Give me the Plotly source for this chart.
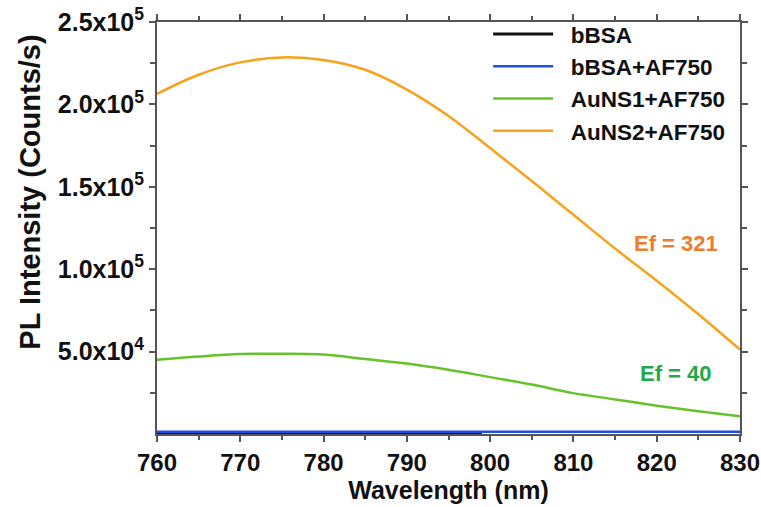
import plotly.graph_objects as go

wavelength = [760, 765, 770, 775, 780, 785, 790, 795, 800, 805, 810, 815, 820, 825, 830]
aunS2 = [206400, 218000, 225500, 228500, 227000, 221000, 209000, 193000, 173500,
         153500, 133000, 112500, 93000, 72700, 51300]
aunS1 = [45000, 47000, 48500, 48700, 48200, 45500, 42800, 39000, 34500,
         30000, 24800, 21000, 17200, 13800, 10700]
bbsa_wl = [760, 770, 780, 790, 799]
bbsa = [250, 250, 250, 250, 250]
bbsa_af = [1400] * len(wavelength)

series_names = ["bBSA", "bBSA+AF750", "AuNS1+AF750", "AuNS2+AF750"]
ytick_vals = [50000, 100000, 150000, 200000, 250000]
ytick_text = ["<b>5.0x10<sup>4</sup></b>", "<b>1.0x10<sup>5</sup></b>", "<b>1.5x10<sup>5</sup></b>",
              "<b>2.0x10<sup>5</sup></b>", "<b>2.5x10<sup>5</sup></b>"]
xtick_vals = [760, 770, 780, 790, 800, 810, 820, 830]
xtick_text = ["<b>%d</b>" % v for v in xtick_vals]

FONT = "Liberation Sans, Arial, sans-serif"

fig = go.Figure()
fig.add_trace(go.Scatter(x=bbsa_wl, y=bbsa, mode="lines", name=series_names[0],
                         line=dict(color="#111111", width=3)))
fig.add_trace(go.Scatter(x=wavelength, y=bbsa_af, mode="lines", name=series_names[1],
                         line=dict(color="#1f4fe6", width=2.5)))
fig.add_trace(go.Scatter(x=wavelength, y=aunS1, mode="lines", name=series_names[2],
                         line=dict(color="#66c22a", width=2.5, shape="spline")))
fig.add_trace(go.Scatter(x=wavelength, y=aunS2, mode="lines", name=series_names[3],
                         line=dict(color="#f8a21c", width=2.5, shape="spline")))

fig.add_annotation(x=822.3, y=115400, text="<b>Ef = 321</b>", showarrow=False,
                   font=dict(family=FONT, size=22, color="#f07c2c"))
fig.add_annotation(x=822.3, y=36600, text="<b>Ef = 40</b>", showarrow=False,
                   font=dict(family=FONT, size=22, color="#22a84a"))
fig.add_annotation(xref="paper", yref="paper", x=-0.218, y=0.588,
                   xanchor="center", yanchor="middle",
                   text="<b>PL Intensity (Counts/s)</b>", textangle=-90, showarrow=False,
                   font=dict(family=FONT, size=29, color="#111111"))

axis_common = dict(showline=True, linecolor="#555555", linewidth=2, mirror="ticks",
                   ticks="outside", tickcolor="#555555", ticklen=6, tickwidth=1.5,
                   showgrid=False, zeroline=False, automargin=False)

fig.update_xaxes(range=[760, 830], tickvals=xtick_vals, ticktext=xtick_text,
                 tickfont=dict(family=FONT, size=24, color="#111111"),
                 minor=dict(dtick=5, ticks="outside", ticklen=4, tickcolor="#555555"),
                 title=dict(text="<b>Wavelength (nm)</b>", standoff=2,
                            font=dict(family=FONT, size=25, color="#111111")),
                 **axis_common)
fig.update_yaxes(range=[0, 250000], tickvals=ytick_vals, ticktext=ytick_text,
                 tickfont=dict(family=FONT, size=25, color="#111111"),
                 minor=dict(tickvals=[25000, 75000, 125000, 175000, 225000],
                            ticks="outside", ticklen=5, tickcolor="#555555"),
                 **axis_common)

fig.update_layout(
    width=761, height=507,
    margin=dict(l=157, r=21, t=22, b=73),
    paper_bgcolor="white", plot_bgcolor="white",
    font=dict(family=FONT, color="#111111"),
    showlegend=True,
    legend=dict(x=0.568, y=1.022, xanchor="left", yanchor="top",
                bgcolor="rgba(0,0,0,0)", itemwidth=60,
                font=dict(family=FONT, size=22.5, color="#111111"),
                tracegroupgap=0),
)
for tr in fig.data:
    tr.name = "&nbsp;&nbsp;<b>" + tr.name + "</b>"

fig.write_html("out.html")
